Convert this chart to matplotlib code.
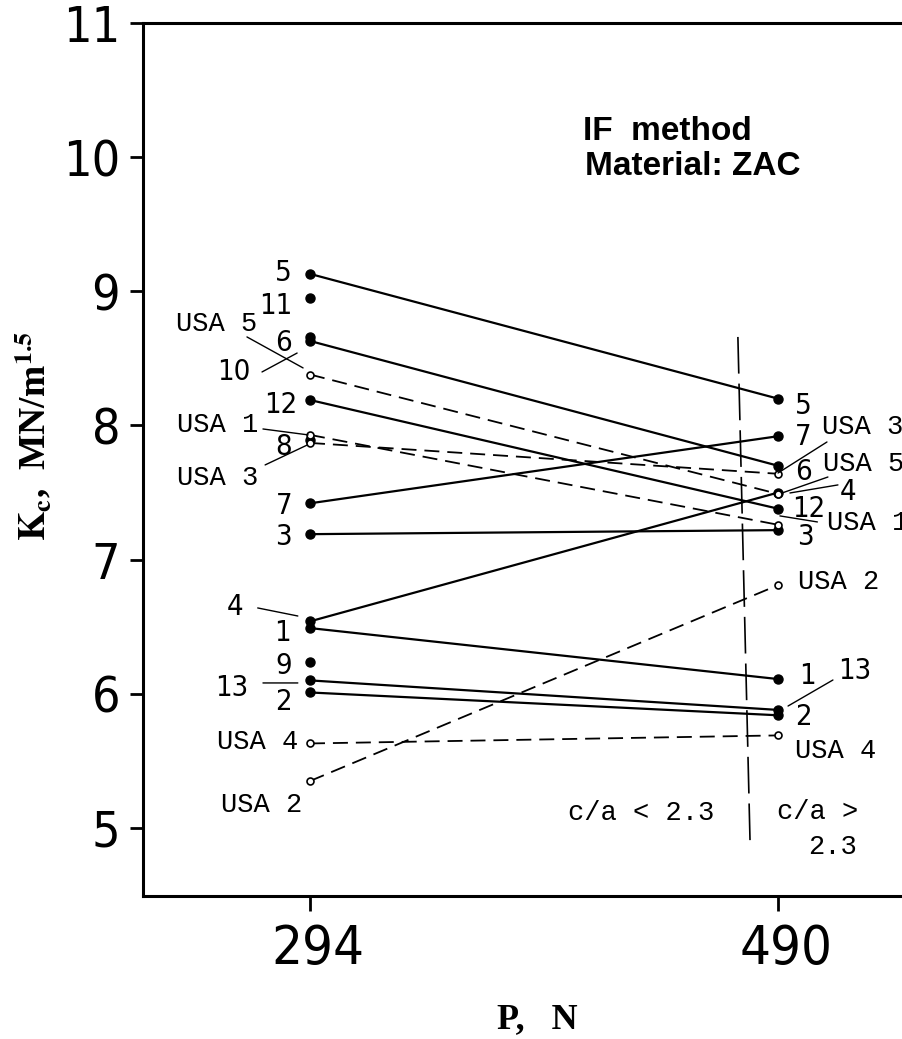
import matplotlib
matplotlib.use("Agg")
import matplotlib.pyplot as plt
import matplotlib.transforms as mtransforms
from matplotlib import font_manager

# ---------------------------
# data
# ---------------------------
loads = [294, 490]

# filled points joined by solid lines (specimen number, Kc at 294 N, Kc at 490 N)
solid_ids = ["5", "6", "12", "7", "3", "4", "1", "13", "2"]
kc_294_solid = [9.13, 8.63, 8.19, 7.42, 7.19, 6.54, 6.49, 6.10, 6.01]
kc_490_solid = [8.20, 7.70, 7.38, 7.92, 7.22, 7.50, 6.11, 5.88, 5.84]

# filled points measured only at 294 N
single_ids = ["11", "10", "8", "9"]
kc_294_single = [8.95, 8.66, 7.89, 6.24]

# open points joined by dashed lines (USA labs)
usa_ids = ["USA 5", "USA 1", "USA 3", "USA 2", "USA 4"]
kc_294_usa = [8.38, 7.93, 7.87, 5.35, 5.63]
kc_490_usa = [7.49, 7.26, 7.64, 6.81, 5.69]

# c/a = 2.3 boundary (hand drawn, slightly slanted)
divider_x = [473.2, 478.3]
divider_y = [8.66, 4.89]

yticks = [5, 6, 7, 8, 9, 10, 11]


def pick_font(names, fallback="DejaVu Sans"):
    for n in names:
        try:
            font_manager.findfont(font_manager.FontProperties(family=n),
                                  fallback_to_default=False)
            return n
        except Exception:
            pass
    return fallback


NARROW = pick_font(["Liberation Sans Narrow", "Arial Narrow"])
MONO = pick_font(["Liberation Mono", "Courier New", "DejaVu Sans Mono"])
SERIF = pick_font(["Liberation Serif", "Times New Roman", "DejaVu Serif"])
SANS = pick_font(["Liberation Sans", "Arial", "DejaVu Sans"])
STRETCH = "normal" if NARROW != "DejaVu Sans" else "condensed"

plt.rcParams["mathtext.fontset"] = "stix"

# ---------------------------
# label layout (text anchors, leader lines)
# ---------------------------
left_num_labels = [("5", 286.5, 9.14), ("11", 286.5, 8.89), ("6", 286.5, 8.615),
                   ("10", 268.9, 8.40), ("12", 288.6, 8.15), ("8", 286.5, 7.84),
                   ("7", 286.5, 7.40), ("3", 286.5, 7.17), ("4", 266.0, 6.65),
                   ("1", 286.0, 6.45), ("9", 286.5, 6.21), ("13", 268.0, 6.04),
                   ("2", 286.5, 5.94)]
left_usa_labels = [("USA 5", 271.8, 8.76), ("USA 1", 272.2, 8.00),
                   ("USA 3", 272.2, 7.61), ("USA 4", 289.0, 5.64),
                   ("USA 2", 290.7, 5.17)]
right_num_labels = [("5", 497.1, 8.145), ("7", 497.1, 7.914), ("6", 497.1, 7.65),
                    ("4", 516.0, 7.505), ("12", 495.9, 7.38), ("3", 498.0, 7.17),
                    ("1", 498.8, 6.133), ("13", 515.1, 6.17), ("2", 497.1, 5.83)]
right_usa_labels = [("USA 3", 508.4, 7.99), ("USA 5", 508.8, 7.713),
                    ("USA 1", 510.5, 7.273), ("USA 2", 498.4, 6.834),
                    ("USA 4", 497.1, 5.574)]
# leader lines: (start_x, start_y, end_x, end_y)
leaders = [(267.6, 8.660, 291.1, 8.429), (273.9, 8.399, 288.6, 8.540),
           (274.3, 7.974, 293.2, 7.930), (275.2, 7.706, 292.9, 7.855),
           (272.1, 6.640, 288.9, 6.580), (274.3, 6.081, 288.9, 6.081),
           (510.5, 7.877, 490.0, 7.646), (510.9, 7.616, 491.7, 7.497),
           (515.1, 7.557, 495.0, 7.497), (506.5, 7.281, 490.8, 7.326),
           (513.0, 6.103, 494.2, 5.909)]

# ---------------------------
# figure
# ---------------------------
W, H = 903, 1039
fig = plt.figure(figsize=(W / 100, H / 100), dpi=100)
ax = fig.add_axes([143 / W, (H - 896) / H, (1000 - 143) / W, (896 - 23) / H])
ax.set_xlim(224.06, 582.97)
ax.set_ylim(4.493, 11.0)

for l, r in zip(kc_294_solid, kc_490_solid):
    ax.plot(loads, [l, r], "-", color="black", lw=1.6, marker="o", ms=6.5,
            mfc="black", mec="black", solid_capstyle="round")
for v in kc_294_single:
    ax.plot(loads[0], v, "o", color="black", ms=6.5)
for l, r in zip(kc_294_usa, kc_490_usa):
    ax.plot(loads, [l, r], color="black", lw=1.3, dashes=(8.3, 4.4),
            marker="o", ms=5, mfc="white", mec="black", mew=1.2)

ax.plot(divider_x, divider_y, color="black", lw=1.2, dashes=(22, 6))

for x0, y0, x1, y1 in leaders:
    ax.annotate("", xy=(x1, y1), xytext=(x0, y0),
                arrowprops=dict(arrowstyle="-", lw=1.0, color="black",
                                shrinkA=0, shrinkB=0))

num_kw = dict(fontsize=21, family=NARROW, fontstretch=STRETCH, va="center")
mono_kw = dict(fontsize=19.5, family=MONO, va="center")
for t, x, y in left_num_labels:
    ax.text(x, y, t, ha="right", **num_kw)
for t, x, y in left_usa_labels:
    ax.text(x, y, t, ha="right", **mono_kw)
for t, x, y in right_num_labels:
    ax.text(x, y, t, ha="left", **num_kw)
for t, x, y in right_usa_labels:
    ax.text(x, y, t, ha="left", **mono_kw)

ax.text(402, 5.112, "c/a < 2.3", ha="left", **mono_kw)
ax.text(489.6, 5.12, "c/a >", ha="left", **mono_kw)
ax.text(502.6, 4.859, "2.3", ha="left", **mono_kw)

# axes styling
for s in ax.spines.values():
    s.set_linewidth(2.2)
ax.set_yticks(yticks)
ax.set_yticklabels([str(v) for v in yticks])
ax.set_xticks(loads)
ax.set_xticklabels([str(v) for v in loads])
ax.tick_params(axis="y", direction="out", length=9.5, width=2.0, pad=7)
ax.tick_params(axis="x", direction="out", length=10.5, width=2.0, pad=9)
for lab in ax.get_yticklabels():
    lab.set_fontsize(36)
    lab.set_family(NARROW)
    lab.set_stretch(STRETCH)
offset = mtransforms.ScaledTranslation(8 / 100, 0, fig.dpi_scale_trans)
for lab in ax.get_xticklabels():
    lab.set_fontsize(39)
    lab.set_family(NARROW)
    lab.set_stretch(STRETCH)
    lab.set_transform(lab.get_transform() + offset)

fig.text(33 / W, 1 - 436 / H, r"$\mathbf{K_c}$,  MN/m$^{\mathbf{1.5}}$",
         rotation=90, ha="center", va="center", fontsize=27,
         family=SERIF, fontweight="bold")
fig.text(537 / W, 1 - 1028 / H, "P,   N", ha="center", va="baseline",
         fontsize=26, family=SERIF, fontweight="bold")

fig.text(583 / W, 1 - 140 / H, "IF  method", ha="left", va="baseline",
         fontsize=24, family=SANS, fontweight="bold")
fig.text(585 / W, 1 - 175 / H, "Material: ZAC", ha="left", va="baseline",
         fontsize=24, family=SANS, fontweight="bold")

fig.savefig("out.png", dpi=100)
